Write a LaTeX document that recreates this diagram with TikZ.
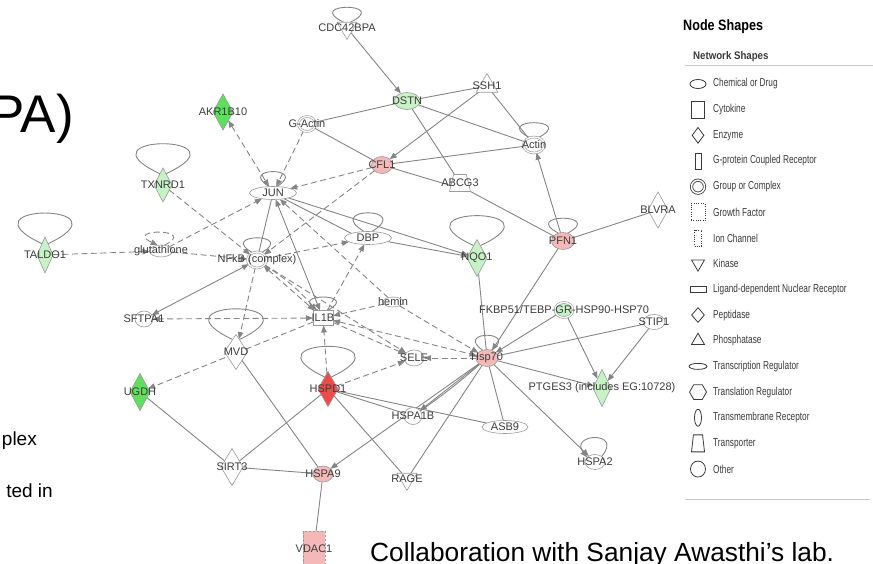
\documentclass[tikz,border=0pt]{standalone}
\usepackage{fontspec}
\setmainfont{Liberation Sans}
\usetikzlibrary{arrows.meta,positioning,shapes.geometric,backgrounds}

\definecolor{linegray}{HTML}{858585}
\definecolor{rimgray}{HTML}{9A9A9A}
\definecolor{labelgray}{HTML}{3C3C3C}
\definecolor{pinkfill}{HTML}{F5B8B8}
\definecolor{redfill}{HTML}{EE4B4B}
\definecolor{greenfill}{HTML}{5EE05E}
\definecolor{palegreen}{HTML}{C6F2C6}
\definecolor{legline}{HTML}{3A3A3A}
\definecolor{rulegray}{HTML}{C8C8C8}

\newcommand{\narrowtext}[2][0.72]{\scalebox{#1}[1]{#2}}
% node, left anchor, right anchor, horizontal pull, vertical pull
\newcommand{\selfloop}[6][]{\draw[link,#1] (#2.#4) .. controls +(#5,#6) and +(-#5,#6) .. (#2.#3);}

\begin{document}
\begin{tikzpicture}[
  x=1pt, y=1pt,
  >={Triangle[length=7pt,width=5.5pt]},
  base/.style={draw=rimgray, line width=0.6pt, fill=white, inner sep=0pt, outer sep=0pt},
  nodetext/.style={font=\fontsize{11}{11}\selectfont, text=labelgray, inner sep=0pt},
  lbl/.style={label={[nodetext]center:{#1}}},
  other/.style={base, ellipse, minimum width=21pt, minimum height=17pt},
  cmplx/.style={base, ellipse, double=white, double distance=1.3pt, minimum width=17pt, minimum height=15pt},
  enzyme/.style={base, diamond, minimum width=20pt, minimum height=36pt},
  kinase/.style={base, regular polygon, regular polygon sides=3, shape border rotate=180, minimum size=23pt},
  phosph/.style={base, regular polygon, regular polygon sides=3, minimum size=25pt},
  treg/.style={base, ellipse, minimum width=47pt, minimum height=13pt},
  chem/.style={base, ellipse, minimum width=21pt, minimum height=11pt},
  cyto/.style={base, rectangle, minimum width=20pt, minimum height=15pt},
  transp/.style={base, inner sep=1pt, trapezium, trapezium stretches=true, trapezium left angle=72, trapezium right angle=72, minimum width=21pt, minimum height=17pt},
  ionch/.style={base, rectangle, dash pattern=on 2.5pt off 1.5pt, minimum width=22pt, minimum height=36pt},
  link/.style={draw=linegray, line width=0.9pt},
  dsh/.style={link, dash pattern=on 6pt off 3.5pt},
  lgbase/.style={draw=legline, line width=0.8pt, fill=white, inner sep=0pt},
  lgchem/.style={lgbase, ellipse, minimum width=16pt, minimum height=9pt},
  lgcyto/.style={lgbase, rectangle, minimum width=13pt, minimum height=17pt},
  lgenz/.style={lgbase, diamond, minimum width=12pt, minimum height=16pt},
  lggpcr/.style={lgbase, rectangle, minimum width=6pt, minimum height=16pt},
  lgcmplx/.style={lgbase, ellipse, double=white, double distance=1.5pt, minimum size=13pt},
  lggrowth/.style={lgbase, rectangle, dash pattern=on 1pt off 1.3pt, minimum width=14pt, minimum height=17pt},
  lgion/.style={lgbase, rectangle, dash pattern=on 1pt off 1.3pt, minimum width=7pt, minimum height=16pt},
  lgkin/.style={lgbase, regular polygon, regular polygon sides=3, shape border rotate=180, minimum size=15pt},
  lgnuc/.style={lgbase, rectangle, minimum width=16pt, minimum height=6pt},
  lgpept/.style={lgbase, diamond, minimum width=13pt, minimum height=15pt},
  lgphos/.style={lgbase, regular polygon, regular polygon sides=3, minimum size=15pt},
  lgtreg/.style={lgbase, ellipse, minimum width=18pt, minimum height=6pt},
  lgtrl/.style={lgbase, regular polygon, regular polygon sides=6, minimum size=17pt},
  lgtmr/.style={lgbase, ellipse, minimum width=7pt, minimum height=17pt},
  lgtransp/.style={lgbase, inner sep=1pt, trapezium, trapezium stretches=true, trapezium left angle=78, trapezium right angle=78, minimum width=13pt, minimum height=17pt},
  lgother/.style={lgbase, ellipse, minimum width=15pt, minimum height=16pt},
  legtext/.style={font=\fontsize{11.5}{12}\selectfont, text=legline, inner sep=0pt}
]
\useasboundingbox (0,0) rectangle (873,-564);

% network nodes
\node[kinase, lbl=CDC42BPA] (cdc) at (347,-28) {};
\node[other, fill=palegreen, minimum width=26pt, lbl=DSTN] (dstn) at (407,-101) {};
\node[phosph, lbl=SSH1] (ssh) at (487,-86) {};
\node[cmplx, lbl=G-Actin] (gact) at (307,-124) {};
\node[cmplx, minimum width=21pt, minimum height=16pt, lbl=Actin] (actin) at (534,-145) {};
\node[other, fill=pinkfill, lbl=CFL1] (cfl) at (382,-165) {};
\node[transp, lbl=ABCG3] (abcg) at (460,-183) {};
\node[enzyme, fill=greenfill, lbl=AKR1B10] (akr) at (223,-112) {};
\node[enzyme, fill=palegreen, minimum width=18pt, minimum height=34pt, lbl=TXNRD1] (txn) at (163,-185) {};
\node[treg, lbl=JUN] (jun) at (273,-193) {};
\node[enzyme, fill=palegreen, minimum width=16pt, lbl=TALDO1] (taldo) at (45,-255) {};
\node[chem, minimum width=23pt, minimum height=12pt, lbl=glutathione] (glut) at (161,-251) {};
\node[cmplx, minimum width=19pt, minimum height=16pt, lbl=NFkB (complex)] (nfkb) at (257,-260) {};
\node[treg, lbl=DBP] (dbp) at (368,-238) {};
\node[enzyme, fill=palegreen, minimum height=37pt, lbl=NQO1] (nqo) at (477,-258) {};
\node[other, fill=pinkfill, minimum width=23pt, lbl=PFN1] (pfn) at (563,-241) {};
\node[enzyme, lbl=BLVRA] (blvra) at (658,-210) {};
\node[chem, minimum width=20pt, minimum height=10pt, lbl=hemin] (hemin) at (393,-302) {};
\node[cyto, lbl=IL1B] (il1b) at (323,-318) {};
\node[other, minimum width=18pt, minimum height=16pt, lbl=SFTPA1] (sftpa) at (144,-319) {};
\node[enzyme, minimum width=23pt, minimum height=35pt, lbl=MVD] (mvd) at (236,-352) {};
\node[other, minimum width=20pt, minimum height=16pt, lbl=SELE] (sele) at (414,-358) {};
\node[other, fill=pinkfill, minimum width=22pt, lbl=Hsp70] (hsp) at (487,-358) {};
\node[cmplx, fill=palegreen, minimum width=18pt, minimum height=15pt, lbl=FKBP51/TEBP-GR-HSP90-HSP70] (fkbp) at (564,-310) {};
\node[other, minimum width=22pt, minimum height=15pt, lbl=STIP1] (stip) at (654,-322) {};
\node[enzyme, fill=redfill, minimum height=35pt, lbl=HSPD1] (hspd) at (328,-389) {};
\node[enzyme, fill=greenfill, minimum height=37pt, lbl=UGDH] (ugdh) at (140,-392) {};
\node[other, minimum width=18pt, lbl=HSPA1B] (hspa1b) at (413,-416) {};
\node[treg, minimum width=46pt, lbl=ASB9] (asb) at (505,-427) {};
\node[enzyme, fill=palegreen, minimum width=18pt, minimum height=37pt, lbl=PTGES3 (includes EG:10728)] (ptges) at (602,-388) {};
\node[other, minimum width=20pt, minimum height=15pt, lbl=HSPA2] (hspa2) at (595,-462) {};
\node[enzyme, minimum width=22pt, minimum height=37pt, lbl=SIRT3] (sirt) at (232,-467) {};
\node[other, fill=pinkfill, minimum width=20pt, minimum height=16pt, lbl=HSPA9] (hspa9) at (323,-474) {};
\node[kinase, lbl=RAGE] (rage) at (407,-479) {};
\node[ionch, fill=pinkfill, lbl=VDAC1] (vdac) at (314,-549) {};

\begin{pgfonlayer}{background}
% solid relations
\draw[link,->] (cdc) -- (dstn);
\draw[link] (dstn) -- (ssh);
\draw[link] (dstn) -- (gact);
\draw[link] (dstn) -- (actin);
\draw[link] (dstn) -- (abcg);
\draw[link,->] (ssh) -- (cfl);
\draw[link] (ssh) -- (actin);
\draw[link] (gact) -- (cfl);
\draw[link] (cfl) -- (actin);
\draw[link] (cfl) -- (abcg.bottom right corner);
\draw[link] (abcg.bottom right corner) -- (pfn);
\draw[link,->] (pfn) -- (actin);
\draw[link] (pfn) -- (blvra);
\draw[link,->] (pfn) -- (hsp);
\draw[link,->] (jun) -- (nqo);
\draw[link] (jun) -- (dbp.north west);
\draw[link,->] (dbp) -- (nqo);
\draw[link] (nqo) -- (hsp);
\draw[link,->] (fkbp) -- (hsp);
\draw[link,->] (fkbp) -- (ptges);
\draw[link,->] (stip) -- (ptges);
\draw[link] (stip) -- (hsp);
\draw[link,->] (hsp) -- (ptges);
\draw[link,->] (hsp) -- (hspa2);
\draw[link] (hsp) -- (asb);
\draw[link,->] (hsp) -- (hspa1b);
\draw[link] (hsp) to[bend left=3] (hspa1b);
\draw[link,->] (hsp) -- (hspa9);
\draw[link] (hsp) -- (rage);
\draw[link] (hspd) -- (asb);
\draw[link] (hspd) -- (hspa1b);
\draw[link] (hspd) -- (rage);
\draw[link] (hspd) -- (sirt);
\draw[link] (mvd) -- (hspa9);
\draw[link] (ugdh) -- (sirt);
\draw[link] (sirt) -- (hspa9);
\draw[link] (hspa9) -- (vdac);
\draw[link] (jun) -- (nfkb);
\draw[link,<->] (jun) -- (il1b);
\draw[link,<->] (nfkb) -- (sftpa);
% dashed relations
\draw[dsh,<->] (akr) -- (jun);
\draw[dsh,->] (gact) -- (jun);
\draw[dsh,->] (cfl) -- (jun);
\draw[dsh,->] (cfl) -- (nfkb);
\draw[dsh,->] (txn) -- (nfkb);
\draw[dsh,->] (taldo) -- (glut);
\draw[dsh,->] (glut) -- (nfkb);
\draw[dsh,->] (glut) -- (jun);
\draw[dsh,->] (nfkb) -- (dbp);
\draw[dsh,->] (nfkb) -- (mvd);
\draw[dsh,<->] (nfkb) -- (il1b);
\draw[dsh,->] (nfkb) to[bend left=8] (il1b);
\draw[dsh,->] (nfkb) -- (sele);
\draw[dsh,->] (il1b) -- (dbp);
\draw[dsh,->] (hemin) -- (il1b);
\draw[dsh,->] (hemin) -- (jun);
\draw[dsh,->] (hemin) -- (hsp);
\draw[dsh,->] (il1b) -- (sele);
\draw[dsh,<->] (il1b) -- (hsp);
\draw[dsh,->] (hsp) -- (sele);
\draw[dsh,->] (hspd) -- (il1b);
\draw[dsh,->] (hspd) -- (sele);
\draw[dsh,->] (il1b) -- (ugdh);
\draw[dsh,<->] (il1b) -- (sftpa);
% self loops
\selfloop{cdc}{120}{60}{41}{20}
\selfloop{actin}{120}{60}{39}{20}
\selfloop{jun}{120}{60}{33}{20}
\selfloop{nfkb}{120}{60}{36}{20}
\selfloop{dbp}{120}{60}{42}{25}
\selfloop{pfn}{120}{60}{38}{20}
\selfloop{il1b}{120}{60}{35}{18}
\selfloop{hsp}{120}{60}{28}{20}
\selfloop{taldo}{105}{75}{86}{41}
\selfloop{txn}{105}{75}{86}{40}
\selfloop{nqo}{105}{75}{86}{40}
\selfloop{mvd}{105}{75}{86}{41}
\selfloop{hspd}{105}{75}{86}{41}
\draw[link,->] (hspa2.40) .. controls +(22,26) and +(-18,24) .. (hspa2.150);
\draw[dsh,->] (glut.60) .. controls +(35,17) and +(-35,17) .. (glut.120);
\end{pgfonlayer}

% slide text
\node[font=\fontsize{53}{60}\selectfont, anchor=base east, inner sep=0pt] (slidetitle) at (74,-133) {PA)};
\node[font=\fontsize{19}{22}\selectfont, anchor=base east, inner sep=0pt] (sidenote1) at (37,-445) {plex};
\node[font=\fontsize{19}{22}\selectfont, anchor=base east, inner sep=0pt] (sidenote2) at (53,-497) {ted in};
\node[font=\fontsize{26.3}{30}\selectfont, anchor=base west, inner sep=0pt] (credit) at (370,-561) {Collaboration with Sanjay Awasthi’s lab.};

% legend
\node[anchor=west, inner sep=0pt, font=\bfseries\fontsize{15}{16}\selectfont] (legtitle) at (683,-27) {\narrowtext[0.84]{Node Shapes}};
\node[anchor=west, inner sep=0pt, font=\bfseries\fontsize{11}{12}\selectfont, text=legline] (legsub) at (693,-57) {\narrowtext[0.88]{Network Shapes}};
\draw[rulegray, line width=0.8pt] (685,-65) -- (873,-65);
\foreach \sty/\txt [count=\i from 0] in {lgchem/Chemical or Drug, lgcyto/Cytokine, lgenz/Enzyme, lggpcr/G-protein Coupled Receptor, lgcmplx/Group or Complex, lggrowth/Growth Factor, lgion/Ion Channel, lgkin/Kinase, lgnuc/Ligand-dependent Nuclear Receptor, lgpept/Peptidase, lgphos/Phosphatase, lgtreg/Transcription Regulator, lgtrl/Translation Regulator, lgtmr/Transmembrane Receptor, lgtransp/Transporter, lgother/Other} {
  \node[\sty] (icon\i) at (698,{-84-25.67*\i}) {};
  \node[legtext, anchor=west] (item\i) at (713,{-84-25.67*\i}) {\narrowtext{\txt}};
}
\draw[rulegray, line width=0.8pt] (685,-499) -- (870,-499);
\end{tikzpicture}
\end{document}
